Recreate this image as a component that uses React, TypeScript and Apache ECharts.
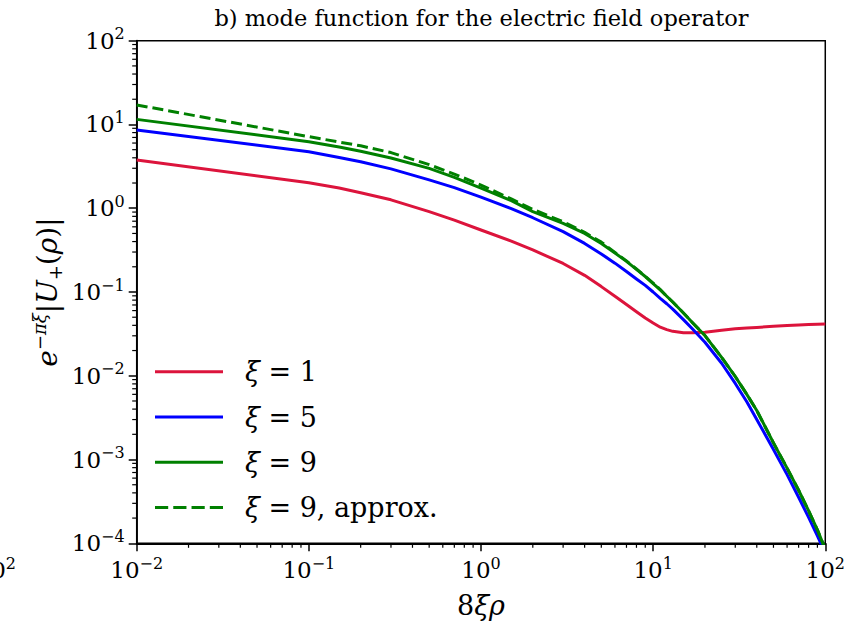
import React, { useEffect, useRef } from 'react';
import * as echarts from 'echarts';

// ---- data ----
const xValues = [0.01, 0.1, 0.15, 0.2, 0.3, 0.5, 0.7, 1, 1.5, 2, 3, 4, 5, 6, 7, 8, 9, 10, 11, 12, 13, 15, 17, 20, 25, 30, 35, 40, 50, 60, 70, 80, 90, 100];
const xi1 = [3.77, 2.02, 1.74, 1.53, 1.26, 0.91, 0.72, 0.55, 0.405, 0.318, 0.219, 0.158, 0.116, 0.089, 0.0708, 0.0582, 0.049, 0.0427, 0.038, 0.0355, 0.0339, 0.0327, 0.0326, 0.0331, 0.035, 0.0363, 0.0371, 0.0378, 0.039, 0.0398, 0.0405, 0.041, 0.0413, 0.0416];
const xi5 = [8.6, 4.73, 4.03, 3.59, 2.95, 2.18, 1.76, 1.36, 0.99, 0.77, 0.525, 0.38, 0.285, 0.221, 0.176, 0.143, 0.12, 0.1, 0.0841, 0.0724, 0.0624, 0.0468, 0.0359, 0.0251, 0.0141, 0.0081, 0.0049, 0.003, 0.00132, 0.00066, 0.000355, 0.000204, 0.000123, 0.000076];
const xi9 = [11.5, 6.23, 5.37, 4.79, 3.98, 2.99, 2.33, 1.74, 1.23, 0.91, 0.66, 0.5, 0.38, 0.292, 0.232, 0.186, 0.153, 0.126, 0.106, 0.089, 0.0759, 0.0562, 0.0427, 0.0302, 0.0166, 0.0098, 0.006, 0.00385, 0.00158, 0.00079, 0.00043, 0.000245, 0.000145, 0.000085];
const xi9Approx = [17.1, 7.15, 6.17, 5.56, 4.62, 3.31, 2.56, 1.89, 1.29, 0.97, 0.69, 0.515, 0.394, 0.297, 0.235, 0.188, 0.154, 0.128, 0.107, 0.089, 0.0759, 0.0562, 0.0427, 0.0302, 0.0166, 0.0098, 0.006, 0.00385, 0.00158, 0.00079, 0.00043, 0.000245, 0.000145, 0.000085];

const seriesNames = ['ξ = 1', 'ξ = 5', 'ξ = 9', 'ξ = 9, approx.'];
const seriesColors = ['#DC143C', '#0000FF', '#008000', '#008000'];
const seriesData = [xi1, xi5, xi9, xi9Approx];

const xMin = 0.01;
const xMax = 100;
const yMin = 1e-4;
const yMax = 100;
const minorMultipliers = [2, 3, 4, 5, 6, 7, 8, 9];
const xDecadeStarts = [0.01, 0.1, 1, 10];
const yDecadeStarts = [1e-4, 1e-3, 1e-2, 1e-1, 1, 10];

const titleText = 'b) mode function for the electric field operator';

const FONT = 'DejaVu Serif';

const solidIcon = 'path://M0,0H67V3H0Z';
const dashedIcon = 'path://M0,0H13V3H0Z M18,0H31V3H18Z M36,0H49V3H36Z M54,0H67V3H54Z';

function expLabel(v: number) {
  const e = Math.round(Math.log10(v));
  const s = e < 0 ? '\u2212' + String(-e) : String(e);
  return `{b|10}{s|${s}}`;
}

const tickRich = {
  b: { fontFamily: FONT, fontSize: 23, lineHeight: 30, color: '#000' },
  s: { fontFamily: FONT, fontSize: 16, lineHeight: 16, verticalAlign: 'top', color: '#000' },
};

export default function App() {
  const ref = useRef<HTMLDivElement>(null);

  useEffect(() => {
    if (!ref.current) return;
    const chart = echarts.init(ref.current, undefined, { renderer: 'svg' });

    const xMinor: number[][] = [];
    xDecadeStarts.forEach((d) => minorMultipliers.forEach((m) => xMinor.push([d * m, yMin])));
    const yMinor: number[][] = [];
    yDecadeStarts.forEach((d) => minorMultipliers.forEach((m) => yMinor.push([xMin, d * m])));

    const lineSeries = seriesNames.map((name, k) => ({
      name,
      type: 'line',
      data: xValues.map((x, i) => [x, seriesData[k][i]]),
      symbol: 'none',
      showSymbol: false,
      smooth: false,
      clip: true,
      z: 10 + k,
      lineStyle: {
        color: seriesColors[k],
        width: 3,
        type: k === 3 ? [11, 5] : 'solid',
        join: 'round',
      },
      itemStyle: { color: seriesColors[k] },
    }));

    const option: any = {
      animation: false,
      grid: {
        left: 136.7,
        right: 21.7,
        top: 40.7,
        bottom: 79.7,
        show: true,
        borderColor: '#000',
        borderWidth: 1.5,
        backgroundColor: '#fff',
      },
      xAxis: {
        type: 'log',
        logBase: 10,
        min: xMin,
        max: xMax,
        splitNumber: 4,
        axisLine: { show: true, onZero: false, lineStyle: { color: '#000', width: 1.8 } },
        axisTick: { show: true, inside: false, length: 8, lineStyle: { color: '#000', width: 1.5 } },
        splitLine: { show: false },
        axisLabel: {
          margin: 12,
          formatter: (v: number) => expLabel(v),
          rich: tickRich,
        },
      },
      yAxis: {
        type: 'log',
        logBase: 10,
        min: yMin,
        max: yMax,
        splitNumber: 6,
        axisLine: { show: true, onZero: false, lineStyle: { color: '#000', width: 1.8 } },
        axisTick: { show: true, inside: false, length: 8, lineStyle: { color: '#000', width: 1.5 } },
        splitLine: { show: false },
        axisLabel: {
          margin: 12,
          formatter: (v: number) => expLabel(v),
          rich: tickRich,
        },
      },
      legend: {
        data: seriesNames.map((name, k) => ({
          name,
          icon: k === 3 ? dashedIcon : solidIcon,
          itemStyle: { color: seriesColors[k] },
        })),
        orient: 'vertical',
        left: 155,
        top: 356.7,
        padding: 0,
        itemWidth: 68,
        itemHeight: 30,
        itemGap: 15.3,
        symbolKeepAspect: true,
        formatter: (name: string) => `{i|ξ}{n|${name.slice(1)}}`,
        textStyle: {
          fontFamily: FONT,
          fontSize: 27,
          lineHeight: 30,
          color: '#000',
          rich: {
            i: { fontFamily: FONT, fontSize: 27, fontStyle: 'italic', lineHeight: 30, padding: [0, 0, 0, 17], color: '#000' },
            n: { fontFamily: FONT, fontSize: 27, lineHeight: 30, color: '#000' },
          },
        },
      },
      graphic: [
        {
          type: 'text',
          x: 481.5,
          y: 18,
          style: {
            text: titleText,
            fontFamily: FONT,
            fontSize: 22.5,
            fill: '#000',
            textAlign: 'center',
            textVerticalAlign: 'middle',
          },
        },
        {
          type: 'text',
          x: 481,
          y: 605,
          style: {
            text: '{n|8}{i|ξρ}',
            textAlign: 'center',
            textVerticalAlign: 'middle',
            fill: '#000',
            rich: {
              n: { fontFamily: FONT, fontSize: 27, fill: '#000' },
              i: { fontFamily: FONT, fontSize: 27, fontStyle: 'italic', fill: '#000' },
            },
          },
        },
        {
          type: 'text',
          x: 47,
          y: 292,
          rotation: Math.PI / 2,
          style: {
            text: '{i|e}{sup|\u2212πξ}{n||}{i|U}{sub|+}{n|(}{i|ρ}{n|)|}',
            textAlign: 'center',
            textVerticalAlign: 'middle',
            fill: '#000',
            rich: {
              n: { fontFamily: FONT, fontSize: 28, lineHeight: 34, fill: '#000' },
              i: { fontFamily: FONT, fontSize: 28, lineHeight: 34, fontStyle: 'italic', fill: '#000' },
              sup: { fontFamily: FONT, fontSize: 18, lineHeight: 18, verticalAlign: 'top', fontStyle: 'italic', fill: '#000' },
              sub: { fontFamily: FONT, fontSize: 18, lineHeight: 18, verticalAlign: 'bottom', fill: '#000' },
            },
          },
        },
        {
          type: 'text',
          x: 16,
          y: 570,
          style: {
            text: '{b|10}{s|2}',
            textAlign: 'right',
            textVerticalAlign: 'middle',
            fill: '#000',
            rich: {
              b: { fontFamily: FONT, fontSize: 23, lineHeight: 30, fill: '#000' },
              s: { fontFamily: FONT, fontSize: 16, lineHeight: 16, verticalAlign: 'top', fill: '#000' },
            },
          },
        },
      ],
      series: [
        ...lineSeries,
        {
          type: 'custom',
          coordinateSystem: 'cartesian2d',
          silent: true,
          clip: false,
          z: 20,
          data: xMinor,
          renderItem: (_p: any, api: any) => {
            const p = api.coord([api.value(0), api.value(1)]);
            return {
              type: 'line',
              shape: { x1: p[0], y1: p[1], x2: p[0], y2: p[1] + 4.5 },
              style: { stroke: '#000', lineWidth: 1.2 },
            };
          },
        },
        {
          type: 'custom',
          coordinateSystem: 'cartesian2d',
          silent: true,
          clip: false,
          z: 20,
          data: yMinor,
          renderItem: (_p: any, api: any) => {
            const p = api.coord([api.value(0), api.value(1)]);
            return {
              type: 'line',
              shape: { x1: p[0] - 4.5, y1: p[1], x2: p[0], y2: p[1] },
              style: { stroke: '#000', lineWidth: 1.2 },
            };
          },
        },
      ],
    };

    chart.setOption(option);
    return () => chart.dispose();
  }, []);

  return (
    <div
      ref={ref}
      style={{ position: 'absolute', left: 0, top: 0, width: 848, height: 623, background: '#fff' }}
    />
  );
}
